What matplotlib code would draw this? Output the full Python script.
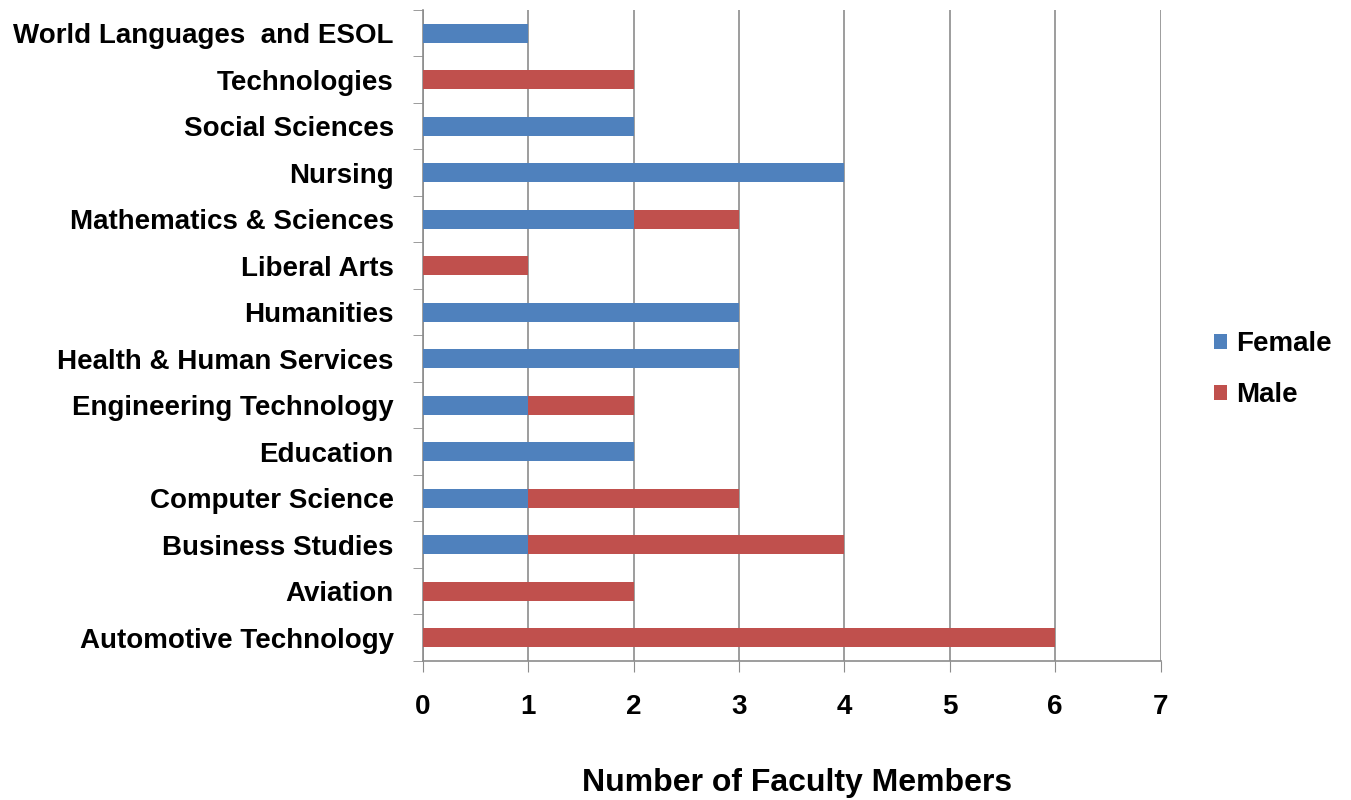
import matplotlib.pyplot as plt
import numpy as np

plt.rcParams['font.family'] = ['Liberation Sans', 'DejaVu Sans']

departments = [
    "Automotive Technology", "Aviation", "Business Studies", "Computer Science",
    "Education", "Engineering Technology", "Health & Human Services", "Humanities",
    "Liberal Arts", "Mathematics & Sciences", "Nursing", "Social Sciences",
    "Technologies", "World Languages  and ESOL",
]
female = [0, 0, 1, 1, 2, 1, 3, 3, 0, 2, 4, 2, 0, 1]
male = [6, 2, 3, 2, 0, 1, 0, 0, 1, 1, 0, 0, 2, 0]
xTicks = [0, 1, 2, 3, 4, 5, 6, 7]

blue = "#4F81BD"
red = "#C0504D"
gridColor = "#8C8C8C"

fig = plt.figure(figsize=(13.51, 8), dpi=100)
ax = fig.add_axes([0.313, 0.174, 0.546, 0.8135])

y = np.arange(len(departments))
ax.barh(y, female, height=0.41, color=blue, label="Female", zorder=3)
ax.barh(y, male, left=female, height=0.41, color=red, label="Male", zorder=3)

ax.set_xlim(0, 7)
ax.set_ylim(-0.5, len(departments) - 0.5)
ax.set_xticks(xTicks)
ax.set_xticklabels([str(t) for t in xTicks], fontsize=20, fontweight="bold")
ax.set_yticks(y)
ax.set_yticklabels(departments, fontsize=20, fontweight="bold")
ax.set_yticks(np.arange(-0.5, len(departments), 1), minor=True)

ax.tick_params(axis="y", which="major", length=0, pad=21)
ax.tick_params(axis="y", which="minor", length=7, color=gridColor, direction="out")
ax.tick_params(axis="x", length=8, color=gridColor, direction="out", pad=16)

ax.xaxis.grid(True, color=gridColor, linewidth=1.2, zorder=0)
ax.set_axisbelow(True)
for side in ["top", "right"]:
    ax.spines[side].set_visible(False)
for side in ["left", "bottom"]:
    ax.spines[side].set_color(gridColor)
    ax.spines[side].set_linewidth(1.2)

ax.set_xlabel("Number of Faculty Members", fontsize=23, fontweight="bold")
ax.xaxis.set_label_coords(0.507, -0.165)

ax.legend(loc="center left", bbox_to_anchor=(1.038, 0.447), frameon=False,
          prop={"size": 20, "weight": "bold"}, handlelength=0.5, handleheight=0.5,
          handletextpad=0.3, labelspacing=0.9)

fig.savefig("out.png", dpi=100)
